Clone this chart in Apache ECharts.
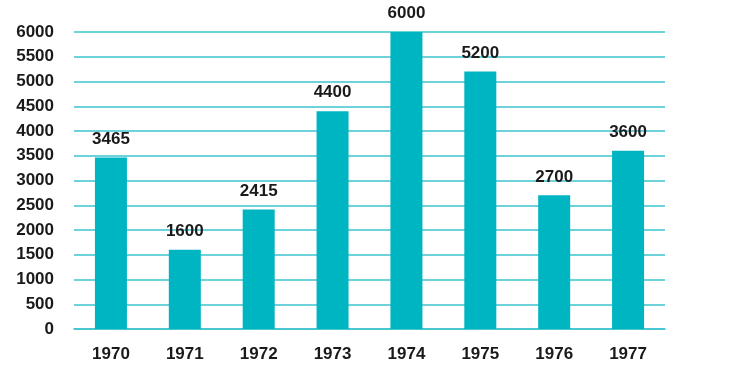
<!DOCTYPE html>
<html><head><meta charset="utf-8">
<script src="https://cdn.jsdelivr.net/npm/echarts@6/dist/echarts.min.js"></script>
<style>html,body{margin:0;padding:0;background:#fff}#c{width:742px;height:381px}</style>
</head><body><div id="c"></div>
<script>
var categories = ['1970','1971','1972','1973','1974','1975','1976','1977'];
var values = [3465, 1600, 2415, 4400, 6000, 5200, 2700, 3600];
var yTicks = [0, 500, 1000, 1500, 2000, 2500, 3000, 3500, 4000, 4500, 5000, 5500, 6000];

var font = 'Liberation Sans, Arial, sans-serif';
var chart = echarts.init(document.getElementById('c'));
chart.setOption({
  animation: false,
  grid: {left: 74, right: 77, top: 32, bottom: 52},
  xAxis: {
    type: 'category', data: categories,
    axisLine: {show: true, lineStyle: {color: '#3cc3cd', width: 1.5}},
    axisTick: {show: false},
    axisLabel: {margin: 17, color: '#1a1a1a', fontWeight: 'bold', fontSize: 17, fontFamily: font}
  },
  yAxis: {
    type: 'value', min: yTicks[0], max: yTicks[yTicks.length-1], interval: 500,
    axisLine: {show: false}, axisTick: {show: false},
    splitLine: {lineStyle: {color: '#3cc3cd', width: 1.5}},
    axisLabel: {margin: 20, color: '#1a1a1a', fontWeight: 'bold', fontSize: 17, fontFamily: font,
      formatter: function (v) { return String(v); }}
  },
  series: [{
    type: 'bar', data: values, barWidth: 32,
    itemStyle: {color: '#00b5c2'},
    label: {show: true, position: 'top', distance: 10, color: '#1a1a1a', fontWeight: 'bold', fontSize: 17, fontFamily: font}
  }]
});
</script></body></html>
